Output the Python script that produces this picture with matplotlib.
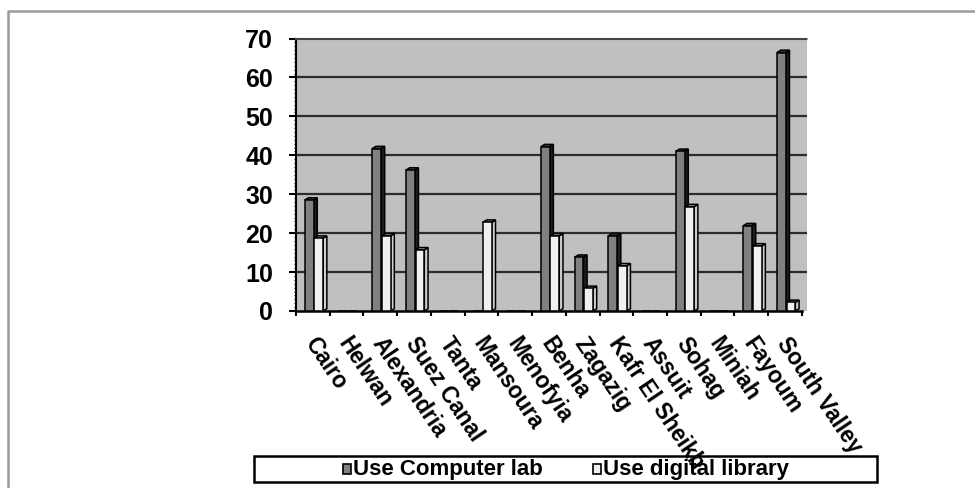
import matplotlib
matplotlib.use("Agg")
import matplotlib.pyplot as plt
from matplotlib.patches import Polygon, Rectangle
from matplotlib.lines import Line2D
import numpy as np

# ---- data ----
universities = ["Cairo", "Helwan", "Alexandria", "Suez Canal", "Tanta", "Mansoura",
                "Menofyia", "Benha", "Zagazig", "Kafr El Sheikh", "Assuit", "Sohag",
                "Miniah", "Fayoum", "South Valley"]
computer_lab = [28.5, 0, 41.7, 36.2, 0, 0, 0, 42.2, 13.8, 19.3, 0, 41.0, 0, 21.9, 66.4]
digital_library = [18.7, 0, 19.3, 15.7, 0, 22.8, 0, 19.3, 5.8, 11.6, 0, 26.8, 0, 16.7, 2.2]
series_names = ["Use Computer lab", "Use digital library"]
y_ticks = [0, 10, 20, 30, 40, 50, 60, 70]

plt.rcParams["font.family"] = ["Liberation Sans", "DejaVu Sans"]
plt.rcParams["font.weight"] = "bold"

W, H = 975, 488
fig = plt.figure(figsize=(W / 100, H / 100), dpi=100)
fig.patch.set_facecolor("white")

# plot area in pixel terms
px_left, px_right, px_top, px_bottom = 296, 807, 38.5, 311
ax = fig.add_axes([px_left / W, 1 - px_bottom / H,
                   (px_right - px_left) / W, (px_bottom - px_top) / H])
ax.set_facecolor("#c0c0c0")

n = len(universities)
x = np.arange(n)
bar_w = 0.26
offsets = [-0.11, 0.175]
depth_x, depth_y = 0.11, 0.6

styles = [
    dict(front="#808080", side="#1e1e1e", top="#4a4a4a"),
    dict(front="#f0f0f0", side="#cdcdcd", top="#9c9c9c"),
]

for s, (vals, off, st) in enumerate(zip([computer_lab, digital_library], offsets, styles)):
    z = 3 + s * 2
    bars = ax.bar(x + off, vals, width=bar_w, color=st["front"], edgecolor="black",
                  linewidth=1.1, zorder=z)
    for rect, v in zip(bars, vals):
        if v <= 0:
            continue
        x0 = rect.get_x()
        x1 = x0 + rect.get_width()
        side = Polygon([[x1, 0], [x1 + depth_x, depth_y], [x1 + depth_x, v + depth_y], [x1, v]],
                       closed=True, facecolor=st["side"], edgecolor="black", linewidth=1.1,
                       zorder=z - 0.5)
        top = Polygon([[x0, v], [x0 + depth_x, v + depth_y], [x1 + depth_x, v + depth_y], [x1, v]],
                      closed=True, facecolor=st["top"], edgecolor="black", linewidth=1.1,
                      zorder=z - 0.5)
        ax.add_patch(side)
        ax.add_patch(top)

# horizontal gridlines on the back wall
for yv in y_ticks[1:-1]:
    ax.axhline(yv, color="#2c2c2c", linewidth=1.6, zorder=1)

ax.set_xlim(-0.5, n - 0.5 + 0.15)
ax.set_ylim(0, 70)

# axes styling
ax.spines["right"].set_visible(False)
ax.spines["top"].set_linestyle((0, (1, 1)))
ax.spines["top"].set_color("#444444")
ax.spines["top"].set_linewidth(1.5)
ax.spines["left"].set_linewidth(1.5)
ax.spines["bottom"].set_linewidth(1.8)
ax.spines["bottom"].set_bounds(-0.5, n - 0.5)

ax.set_yticks(y_ticks)
ax.set_yticklabels([str(v) for v in y_ticks], fontsize=18, fontweight="bold",
                   family=["Liberation Sans Narrow", "Liberation Sans", "DejaVu Sans"])
ax.set_yticks(np.arange(0, 70.1, 1), minor=True)
ax.tick_params(axis="y", which="major", direction="out", length=5, width=1.5, pad=11.5)
ax.tick_params(axis="y", which="minor", direction="out", length=1.8, width=0.8)

# category boundaries as tick marks, names as rotated labels
ax.set_xticks(np.arange(-0.5, n, 1.0), minor=True)
ax.tick_params(axis="x", which="minor", direction="out", length=3.6, width=1.5)
ax.set_xticks(x + 0.18)
ax.set_xticklabels(universities, rotation=-56, ha="left", va="top",
                   rotation_mode="anchor", fontsize=16.3, fontweight="bold")
ax.tick_params(axis="x", which="major", length=0, pad=16)

# legend box (kept beneath the axes so long labels run over its border)
lx0, lx1, ly0, ly1 = 254, 877, 456, 482
fig.patches.append(Rectangle((lx0 / W, 1 - ly1 / H), (lx1 - lx0) / W, (ly1 - ly0) / H,
                             transform=fig.transFigure, facecolor="none",
                             edgecolor="black", linewidth=1.8, zorder=-1))
legend_items = [(343, styles[0]["front"]), (593, styles[1]["front"])]
for (mx, col), name in zip(legend_items, series_names):
    fig.patches.append(Rectangle((mx / W, 1 - 474 / H), 8 / W, 10 / H,
                                 transform=fig.transFigure, facecolor=col,
                                 edgecolor="black", linewidth=1.2))
    fig.text((mx + 10) / W, 1 - 469.5 / H, name, fontsize=16, fontweight="bold",
             ha="left", va="center")

# outer frame (top and left edges)
fig.add_artist(Line2D([8 / W, 8 / W, 1.0], [0.0, 1 - 11 / H, 1 - 11 / H],
                      transform=fig.transFigure, color="#9a9a9a", linewidth=1.8))

fig.savefig("out.png", dpi=100)
